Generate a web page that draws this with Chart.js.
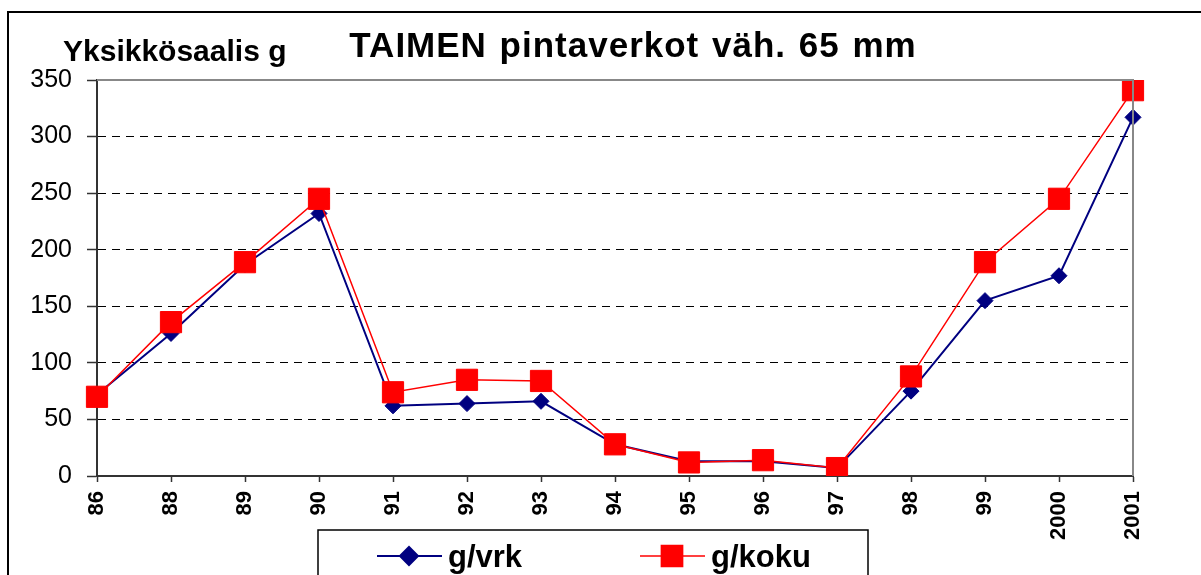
<!DOCTYPE html>
<html>
<head>
  <title>TAIMEN pintaverkot</title>
  <script src="https://cdn.jsdelivr.net/npm/chart.js"></script>
  <style>
    html, body { margin: 0; padding: 0; background: #fff; }
    #wrap { width: 1201px; height: 575px; }
  </style>
</head>
<body>
  <div id="wrap"><canvas id="chart" width="1201" height="575"></canvas></div>
  <script>
    // data
    const years = ['86', '88', '89', '90', '91', '92', '93', '94', '95', '96', '97', '98', '99', '2000', '2001'];
    const gVrk = [72, 126, 187, 232, 62, 64, 66, 28, 13, 13, 7, 75, 155, 177, 317];
    const gKoku = [70, 136, 189, 245, 74, 85, 84, 28, 12, 14, 7, 88, 189, 245, 341];
    const yTicks = [0, 50, 100, 150, 200, 250, 300, 350];

    const FONT = "'Liberation Sans', Arial, sans-serif";

    // title, unit label, frames and the boxed legend
    const decor = {
      id: 'decor',
      beforeDraw(chart) {
        const ctx = chart.ctx;
        ctx.save();
        ctx.fillStyle = '#fff';
        ctx.fillRect(0, 0, chart.width, chart.height);
        ctx.restore();
      },
      afterDatasetsDraw(chart) {
        const ctx = chart.ctx;
        const a = chart.chartArea;
        ctx.save();
        // grey top and right edge of the plot
        ctx.strokeStyle = '#888';
        ctx.lineWidth = 2;
        ctx.beginPath();
        ctx.moveTo(a.left, a.top);
        ctx.lineTo(a.right, a.top);
        ctx.lineTo(a.right, a.bottom);
        ctx.stroke();
        ctx.restore();
      },
      afterDraw(chart) {
        const ctx = chart.ctx;
        ctx.save();
        // outer frame
        ctx.strokeStyle = '#000';
        ctx.lineWidth = 2;
        ctx.strokeRect(8, 12, 1220, 600);

        ctx.fillStyle = '#000';
        ctx.textBaseline = 'alphabetic';
        ctx.font = 'bold 35px ' + FONT;
        ctx.letterSpacing = '1px';
        ctx.wordSpacing = '2px';
        ctx.textAlign = 'center';
        ctx.fillText('TAIMEN pintaverkot väh. 65 mm', 633, 57);
        ctx.letterSpacing = '0px';
        ctx.wordSpacing = '0px';

        ctx.font = 'bold 30px ' + FONT;
        ctx.textAlign = 'left';
        ctx.fillText('Yksikkösaalis g', 63, 61);

        // legend box
        ctx.strokeStyle = '#000';
        ctx.lineWidth = 1.5;
        ctx.strokeRect(318, 530, 550, 80);

        const itemX = [377, 640];
        const y = 556;
        chart.data.datasets.forEach((ds, i) => {
          const x0 = itemX[i];
          ctx.strokeStyle = ds.borderColor;
          ctx.lineWidth = ds.borderWidth;
          ctx.beginPath();
          ctx.moveTo(x0, y);
          ctx.lineTo(x0 + 65, y);
          ctx.stroke();
          Chart.helpers.drawPoint(ctx, {
            pointStyle: ds.pointStyle,
            radius: ds.legendRadius,
            borderWidth: 1
          }, x0 + 32, y);
          ctx.fillStyle = ds.pointBackgroundColor;
          ctx.strokeStyle = ds.pointBorderColor;
          ctx.fill();
          ctx.fillStyle = '#000';
          ctx.font = 'bold 31px ' + FONT;
          ctx.textAlign = 'left';
          ctx.fillText(ds.label, x0 + 71, 567);
        });
        ctx.restore();
      }
    };

    const ctx = document.getElementById('chart').getContext('2d');
    const chart = new Chart(ctx, {
      type: 'line',
      data: {
        labels: years,
        datasets: [
          {
            label: 'g/vrk',
            data: gVrk,
            borderColor: '#000080',
            borderWidth: 2,
            pointStyle: 'rectRot',
            pointRadius: 8,
            pointBackgroundColor: '#000080',
            pointBorderColor: '#000080',
            pointBorderWidth: 1,
            legendRadius: 9,
            tension: 0,
            order: 1
          },
          {
            label: 'g/koku',
            data: gKoku,
            borderColor: '#ff0000',
            borderWidth: 1.5,
            pointStyle: 'rect',
            pointRadius: 15,
            pointBackgroundColor: '#ff0000',
            pointBorderColor: '#ff0000',
            pointBorderWidth: 1,
            legendRadius: 15,
            tension: 0,
            order: 0
          }
        ]
      },
      options: {
        responsive: false,
        animation: false,
        layout: { padding: { left: 0, top: 80, right: 68, bottom: 0 } },
        plugins: {
          legend: { display: false },
          title: { display: false },
          tooltip: { enabled: false }
        },
        scales: {
          x: {
            offset: false,
            afterFit(scale) { scale.height = 99; },
            grid: { drawOnChartArea: false, tickLength: 6, tickColor: '#333', tickWidth: 1.5 },
            border: { color: '#333', width: 2 },
            ticks: {
              autoSkip: false,
              minRotation: 90,
              maxRotation: 90,
              padding: 9,
              color: '#000',
              font: { family: FONT, size: 22, weight: 'bold' }
            }
          },
          y: {
            min: 0,
            max: 350,
            afterFit(scale) { scale.width = 97; },
            afterBuildTicks(scale) { scale.ticks = yTicks.map(v => ({ value: v })); },
            grid: {
              color: c => (c.tick && c.tick.value === 350) ? 'rgba(0,0,0,0)' : '#000',
              lineWidth: 1,
              tickLength: 10,
              tickColor: '#333',
              tickWidth: 1.5
            },
            border: { color: '#333', width: 2, dash: [8, 6] },
            ticks: {
              padding: 15,
              color: '#000',
              font: { family: FONT, size: 25 }
            }
          }
        }
      },
      plugins: [decor]
    });
  </script>
</body>
</html>
